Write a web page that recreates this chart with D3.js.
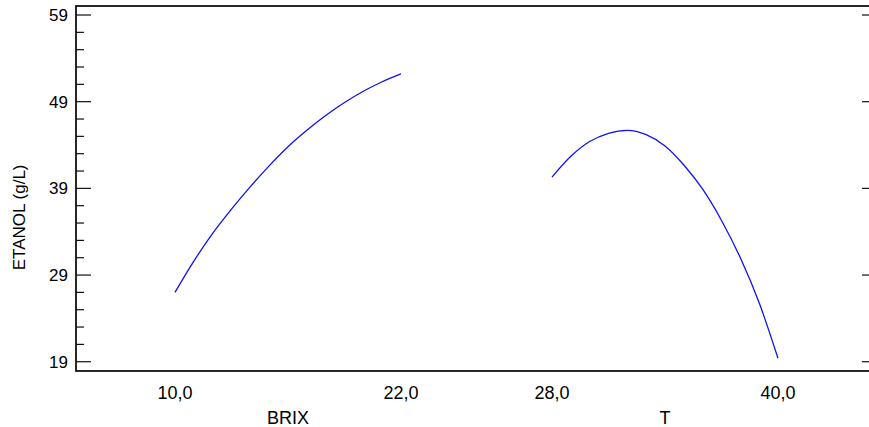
<!DOCTYPE html>
<html>
<head>
<meta charset="utf-8">
<script src="https://cdn.jsdelivr.net/npm/d3@7"></script>
<style>
  body { margin: 0; background: #fff; }
  text { font-family: "Liberation Sans", Arial, sans-serif; fill: #000; }
</style>
</head>
<body>
<div id="chart-area"></div>
<script>
// data
const factors = ["BRIX", "T"]
const brixLevels = [10, 11, 12, 13, 14, 15, 16, 17, 18, 19, 20, 21, 22]
const brixEtanol = [27.0, 30.6, 33.8, 36.6, 39.2, 41.6, 43.8, 45.7, 47.4, 48.9, 50.2, 51.3, 52.2]
const tLevels = [28, 29, 30, 31, 32, 33, 34, 35, 36, 37, 38, 39, 40]
const tEtanol = [40.3, 42.7, 44.4, 45.35, 45.7, 45.2, 43.9, 41.7, 38.9, 35.3, 31.0, 25.8, 19.4]
const factorRanges = [[10, 22], [28, 40]]
const yTicks = [19, 29, 39, 49, 59]
const yMinorTicks = d3.range(17, 61, 2)
const yLabel = "ETANOL (g/L)"

function drawChart() {
  const dimensions = {
    width: 869,
    height: 427,
    margin: { top: 6, right: -8, bottom: 56, left: 76 },
  }
  dimensions.boundedWidth = dimensions.width - dimensions.margin.left - dimensions.margin.right
  dimensions.boundedHeight = dimensions.height - dimensions.margin.top - dimensions.margin.bottom

  const wrapper = d3.select("#chart-area")
    .append("svg")
      .attr("width", dimensions.width)
      .attr("height", dimensions.height)

  const bounds = wrapper.append("g")
    .attr("transform", `translate(${dimensions.margin.left},${dimensions.margin.top})`)

  // scales
  const yScale = d3.scaleLinear()
    .domain([17.93, 60.04])
    .range([dimensions.boundedHeight, 0])

  const factorScale = d3.scaleBand()
    .domain(factors)
    .range([0, dimensions.boundedWidth])
    .paddingInner(0.4005)
    .paddingOuter(0.2626)

  const xScales = factors.map((f, i) => d3.scaleLinear()
    .domain(factorRanges[i])
    .range([factorScale(f), factorScale(f) + factorScale.bandwidth()]))

  const commaFormat = d3.formatLocale({ decimal: ",", thousands: ".", grouping: [3], currency: ["", ""] }).format(".1f")

  // frame
  bounds.append("rect")
    .attr("width", dimensions.boundedWidth)
    .attr("height", dimensions.boundedHeight)
    .attr("fill", "none")
    .attr("stroke", "#111")
    .attr("stroke-width", 1.8)

  // y ticks, left and right
  const [yLo, yHi] = yScale.domain()
  const tickGroup = bounds.append("g").attr("stroke", "#111").attr("stroke-width", 1.2)
  yMinorTicks.filter(d => yTicks.indexOf(d) < 0 && d > yLo && d < yHi).forEach(d => {
    tickGroup.append("line").attr("x1", 0).attr("x2", 8).attr("y1", yScale(d)).attr("y2", yScale(d))
    tickGroup.append("line").attr("x1", dimensions.boundedWidth).attr("x2", dimensions.boundedWidth - 8).attr("y1", yScale(d)).attr("y2", yScale(d))
  })
  yTicks.forEach(d => {
    tickGroup.append("line").attr("x1", 0).attr("x2", 15).attr("y1", yScale(d)).attr("y2", yScale(d))
    tickGroup.append("line").attr("x1", dimensions.boundedWidth).attr("x2", dimensions.boundedWidth - 15).attr("y1", yScale(d)).attr("y2", yScale(d))
    bounds.append("text")
      .attr("x", -8)
      .attr("y", yScale(d))
      .attr("dy", "0.36em")
      .attr("text-anchor", "end")
      .style("font-size", "17px")
      .text(d)
  })

  // x tick labels and factor names
  factors.forEach((f, i) => {
    const xs = xScales[i]
    factorRanges[i].forEach(v => {
      bounds.append("text")
        .attr("x", xs(v))
        .attr("y", dimensions.boundedHeight + 28)
        .attr("text-anchor", "middle")
        .style("font-size", "18px")
        .text(commaFormat(v))
    })
    bounds.append("text")
      .attr("x", factorScale(f) + factorScale.bandwidth() / 2)
      .attr("y", dimensions.boundedHeight + 53)
      .attr("text-anchor", "middle")
      .style("font-size", "18px")
      .text(f)
  })

  wrapper.append("text")
    .attr("transform", `translate(25,${dimensions.margin.top + yScale(39) + 29}) rotate(-90)`)
    .attr("text-anchor", "middle")
    .style("font-size", "17px")
    .text(yLabel)

  // lines
  const series = [
    { scale: xScales[0], levels: brixLevels, values: brixEtanol },
    { scale: xScales[1], levels: tLevels, values: tEtanol },
  ]
  series.forEach(s => {
    const line = d3.line()
      .x((d, i) => s.scale(s.levels[i]))
      .y(d => yScale(d))
      .curve(d3.curveMonotoneX)
    bounds.append("path")
      .attr("fill", "none")
      .attr("stroke", "#1010f0")
      .attr("stroke-width", 1.3)
      .attr("d", line(s.values))
  })
}
drawChart()
</script>
</body>
</html>
